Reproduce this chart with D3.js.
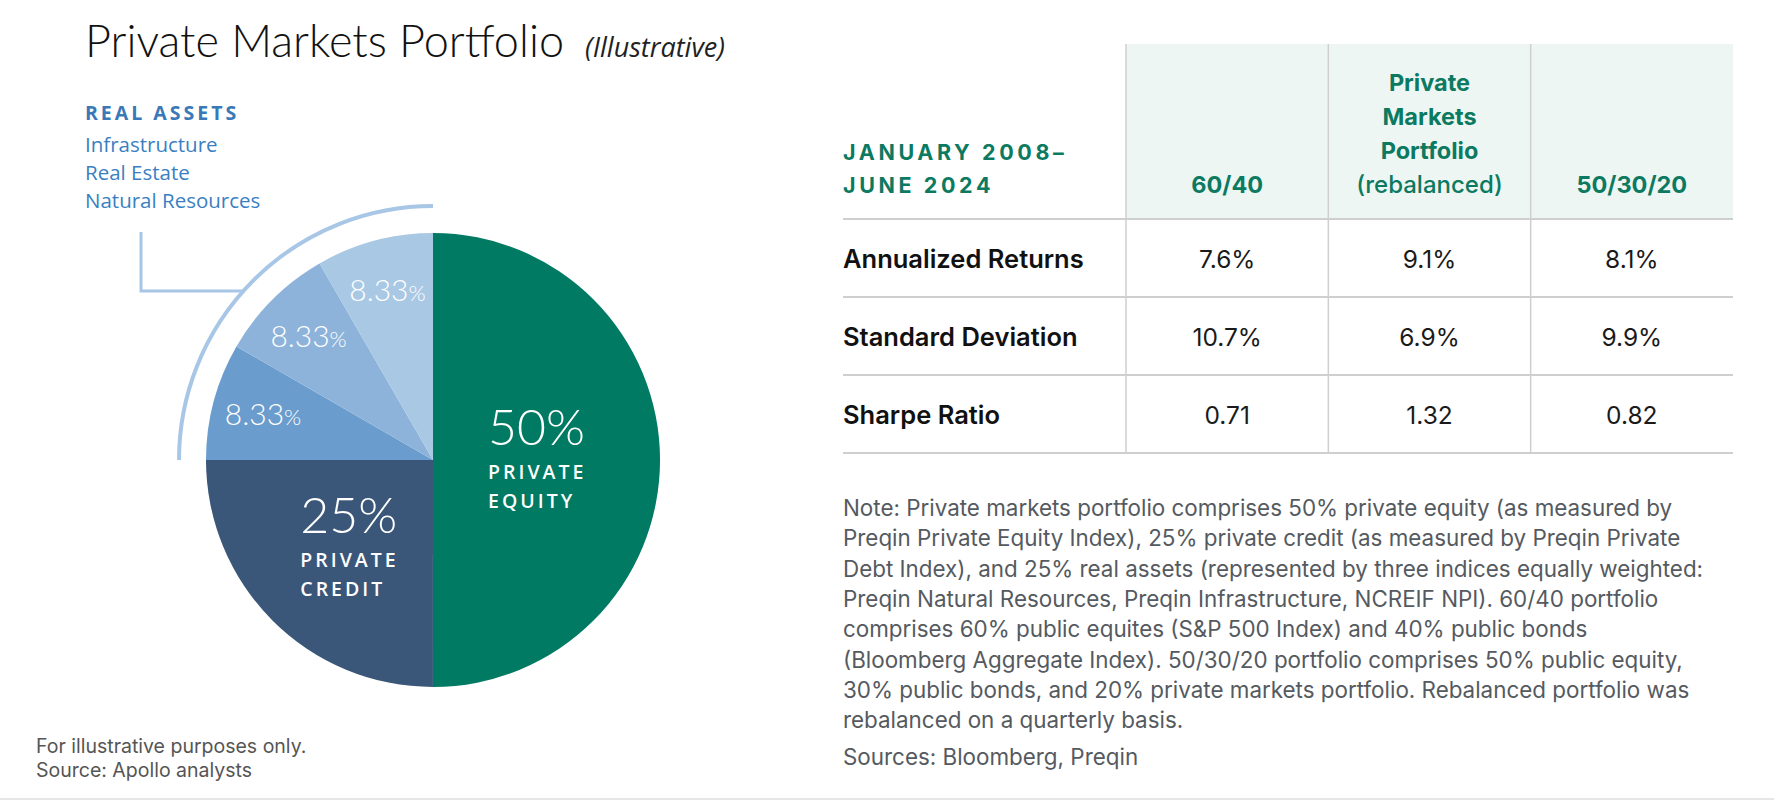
<!DOCTYPE html>
<html>
<head>
<meta charset="utf-8">
<script src="https://cdn.jsdelivr.net/npm/d3@7"></script>
<style>
  body { margin: 0; background: #fff; }
  svg { display: block; }
</style>
</head>
<body>
<div id="chart"></div>
<script>
// pie data, clockwise from 12 o'clock
const sliceNames = ["Private Equity", "Private Credit", "Real Assets A", "Real Assets B", "Real Assets C"];
const sliceValues = [50, 25, 8.33, 8.33, 8.33];
const sliceColors = ["#007a62", "#3a5779", "#6a9dcd", "#8db3da", "#a9c8e4"];

const realAssets = ["Infrastructure", "Real Estate", "Natural Resources"];

// table
const periodLabel = ["JANUARY 2008–", "JUNE 2024"];
const columns = ["60/40", "Private Markets Portfolio (rebalanced)", "50/30/20"];
const columnLines = [["60/40"], ["Private", "Markets", "Portfolio", "(rebalanced)"], ["50/30/20"]];
const rowLabels = ["Annualized Returns", "Standard Deviation", "Sharpe Ratio"];
const tableValues = [
    ["7.6%", "9.1%", "8.1%"],
    ["10.7%", "6.9%", "9.9%"],
    ["0.71", "1.32", "0.82"]
];

const noteLines = [
    "Note: Private markets portfolio comprises 50% private equity (as measured by",
    "Preqin Private Equity Index), 25% private credit (as measured by Preqin Private",
    "Debt Index), and 25% real assets (represented by three indices equally weighted:",
    "Preqin Natural Resources, Preqin Infrastructure, NCREIF NPI). 60/40 portfolio",
    "comprises 60% public equites (S&P 500 Index) and 40% public bonds",
    "(Bloomberg Aggregate Index). 50/30/20 portfolio comprises 50% public equity,",
    "30% public bonds, and 20% private markets portfolio. Rebalanced portfolio was",
    "rebalanced on a quarterly basis."
];
const sourceRight = "Sources: Bloomberg, Preqin";
const footLeft = ["For illustrative purposes only.", "Source: Apollo analysts"];

const W = 1774, H = 800;
const svg = d3.select("#chart").append("svg")
    .attr("width", W)
    .attr("height", H);

const thin = "Lato, 'Open Sans', sans-serif";
const sans = "Inter, Roboto, sans-serif";
const human = "'Open Sans', 'Noto Sans', sans-serif";

// title
svg.append("text")
    .attr("x", 85).attr("y", 57)
    .style("font-family", thin).style("font-weight", 300)
    .style("font-size", "45px").style("fill", "#111")
    .text("Private Markets Portfolio");

svg.append("text")
    .attr("x", 585).attr("y", 57)
    .style("font-family", human).style("font-style", "italic")
    .style("font-size", "27px").style("fill", "#222")
    .text("(Illustrative)");

// real assets legend
svg.append("text")
    .attr("x", 85).attr("y", 120)
    .style("font-family", human).style("font-weight", 700)
    .style("font-size", "19.5px").style("letter-spacing", "3px")
    .style("fill", "#3a78b8")
    .text("REAL ASSETS");

svg.selectAll(".ra-item")
    .data(realAssets)
    .enter()
    .append("text")
    .attr("class", "ra-item")
    .attr("x", 85)
    .attr("y", (d, i) => 152 + i * 28)
    .style("font-family", human)
    .style("font-size", "20.5px")
    .style("fill", "#3a7fc1")
    .text(d => d);

// pie
const cx = 433, cy = 460, R = 227;
const g = svg.append("g").attr("transform", `translate(${cx},${cy})`);

const pie = d3.pie().sort(null).value(d => d)
    .startAngle(0).endAngle(2 * Math.PI);
const arcs = pie(sliceValues);

const arc = d3.arc().innerRadius(0).outerRadius(R);

g.selectAll(".slice")
    .data(arcs)
    .enter()
    .append("path")
    .attr("class", "slice")
    .attr("d", arc)
    .attr("fill", (d, i) => sliceColors[i]);

// bracket arc around the real asset slices
const raStart = arcs[2].startAngle, raEnd = arcs[4].endAngle;
const bracketR = 254;
g.append("path")
    .attr("d", d3.arc()({ innerRadius: bracketR, outerRadius: bracketR, startAngle: raStart, endAngle: raEnd }))
    .attr("fill", "none")
    .attr("stroke", "#a8c6e6")
    .attr("stroke-width", 4);

// connector from the legend to the arc
const legY = 291 - cy;
const legX = -Math.sqrt(bracketR * bracketR - legY * legY);
g.append("path")
    .attr("d", `M${141 - cx},${232 - cy}V${legY}H${legX}`)
    .attr("fill", "none")
    .attr("stroke", "#a8c6e6")
    .attr("stroke-width", 3);

// small slice labels
const smallArc = d3.arc().innerRadius(176).outerRadius(176);
const small = g.selectAll(".small-label")
    .data(arcs.slice(2))
    .enter()
    .append("text")
    .attr("class", "small-label")
    .attr("transform", d => {
        const c = smallArc.centroid(d);
        return `translate(${c[0]},${c[1] + 11})`;
    })
    .attr("text-anchor", "middle")
    .style("font-family", thin).style("font-weight", 300)
    .style("font-size", "30px").style("fill", "#fff");
small.append("tspan").text(d => d3.format(".2f")(d.data));
small.append("tspan").style("font-size", "22px").text("%");

// big slice labels
const bigR = [100, 124];
arcs.slice(0, 2).forEach((d, i) => {
    const c = d3.arc().innerRadius(bigR[i]).outerRadius(bigR[i]).centroid(d);
    const x0 = c[0] - 45;
    const name = sliceNames[i].toUpperCase().split(" ");
    g.append("text")
        .attr("x", x0).attr("y", c[1] - 15)
        .style("font-family", thin).style("font-weight", 300)
        .style("font-size", "50px").style("fill", "#fff")
        .text(d.data + "%");
    g.selectAll(".big-name-" + i)
        .data(name)
        .enter()
        .append("text")
        .attr("x", x0)
        .attr("y", (t, j) => c[1] + 19 + j * 29)
        .style("font-family", human).style("font-weight", 600)
        .style("font-size", "19.5px").style("letter-spacing", "3px")
        .style("fill", "#fff")
        .text(t => t);
});

// left footer
svg.selectAll(".foot-left")
    .data(footLeft)
    .enter()
    .append("text")
    .attr("x", 36)
    .attr("y", (d, i) => 753 + i * 24)
    .style("font-family", sans)
    .style("font-size", "19.5px")
    .style("fill", "#555")
    .text(d => d);

// table
const tblLeft = 843, tblRight = 1733, headTop = 44, headBottom = 219, tblBottom = 453;
const green = "#0c7a61";
const lineCol = "#cfcfcf";

const xCol = d3.scaleBand().domain(columns).range([1126, tblRight]);
const yRow = d3.scaleBand().domain(rowLabels).range([headBottom, tblBottom]);

svg.append("rect")
    .attr("x", xCol.range()[0]).attr("y", headTop)
    .attr("width", tblRight - xCol.range()[0])
    .attr("height", headBottom - headTop)
    .attr("fill", "#eef6f3");

svg.selectAll(".vline")
    .data(columns)
    .enter()
    .append("line")
    .attr("x1", d => xCol(d)).attr("x2", d => xCol(d))
    .attr("y1", headTop).attr("y2", tblBottom)
    .attr("stroke", lineCol).attr("stroke-width", 1.5);

svg.selectAll(".hline")
    .data(rowLabels)
    .enter()
    .append("line")
    .attr("x1", tblLeft).attr("x2", tblRight)
    .attr("y1", d => yRow(d)).attr("y2", d => yRow(d))
    .attr("stroke", lineCol).attr("stroke-width", 2);

svg.append("line")
    .attr("x1", tblLeft).attr("x2", tblRight)
    .attr("y1", tblBottom).attr("y2", tblBottom)
    .attr("stroke", lineCol).attr("stroke-width", 2);

// period header
svg.selectAll(".period")
    .data(periodLabel)
    .enter()
    .append("text")
    .attr("x", tblLeft)
    .attr("y", (d, i) => 160 + i * 33)
    .style("font-family", sans).style("font-weight", 700)
    .style("font-size", "21.5px").style("letter-spacing", "3.6px")
    .style("fill", green)
    .text(d => d);

// column headers, bottom aligned
columns.forEach((c, i) => {
    const lines = columnLines[i];
    svg.selectAll(".colhead-" + i)
        .data(lines)
        .enter()
        .append("text")
        .attr("x", xCol(c) + xCol.bandwidth() / 2)
        .attr("y", (t, j) => 193 - (lines.length - 1 - j) * 34)
        .attr("text-anchor", "middle")
        .style("font-family", sans)
        .style("font-weight", t => t.startsWith("(") ? 500 : 700)
        .style("font-size", t => t.startsWith("(") ? "24px" : "23.5px")
        .style("fill", green)
        .text(t => t);
});

// row labels and values
svg.selectAll(".row-label")
    .data(rowLabels)
    .enter()
    .append("text")
    .attr("x", tblLeft)
    .attr("y", d => yRow(d) + yRow.bandwidth() / 2 + 10)
    .style("font-family", sans).style("font-weight", 600)
    .style("font-size", "25.5px").style("fill", "#111")
    .text(d => d);

rowLabels.forEach((r, ri) => {
    svg.selectAll(".val-" + ri)
        .data(tableValues[ri])
        .enter()
        .append("text")
        .attr("x", (v, ci) => xCol(columns[ci]) + xCol.bandwidth() / 2)
        .attr("y", yRow(r) + yRow.bandwidth() / 2 + 10)
        .attr("text-anchor", "middle")
        .style("font-family", sans)
        .style("font-size", "24.5px").style("fill", "#1a1a1a")
        .text(v => v);
});

// notes
svg.selectAll(".note")
    .data(noteLines)
    .enter()
    .append("text")
    .attr("x", tblLeft)
    .attr("y", (d, i) => 516 + i * 30.3)
    .style("font-family", sans)
    .style("font-size", "22.4px").style("fill", "#555a60")
    .text(d => d);

svg.append("text")
    .attr("x", tblLeft).attr("y", 765)
    .style("font-family", sans)
    .style("font-size", "22.4px").style("fill", "#555a60")
    .text(sourceRight);

// faint rule at the bottom
svg.append("line")
    .attr("x1", 0).attr("x2", W)
    .attr("y1", 799).attr("y2", 799)
    .attr("stroke", "#e6e6e6").attr("stroke-width", 2);
</script>
</body>
</html>
